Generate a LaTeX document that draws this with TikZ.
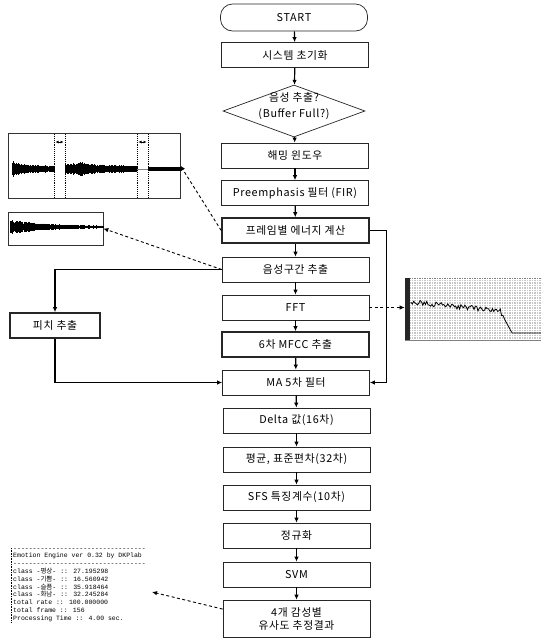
\documentclass[tikz,border=0pt]{standalone}
\usepackage{fontspec}
\usetikzlibrary{arrows.meta,shapes.geometric,calc}
\newfontfamily\kr[LetterSpace=6]{Noto Sans CJK KR}
\newfontfamily\krs{Noto Sans CJK KR}
\newfontfamily\cmono{Liberation Mono}
\begin{document}
\begin{tikzpicture}[x=1pt,y=-1pt,
  box/.style={draw=black!85, line width=0.7pt, minimum width=147pt, minimum height=25pt, inner sep=0pt, font=\kr\fontsize{10.8}{13}\selectfont, align=center},
  thickbox/.style={box, line width=1.6pt},
  arr/.style={line width=1.2pt, -{Latex[length=5pt,width=4.5pt]}},
  dasharr/.style={dash pattern=on 3pt off 2.5pt, line width=0.9pt, -{Latex[length=5pt,width=4.5pt]}},
  img/.style={draw=black!80, line width=0.7pt, inner sep=0pt},
  wv/.style={line width=0.6pt}
]
\useasboundingbox (0,0) rectangle (541,638);

% main column
\node[box, rounded corners=12pt, minimum height=27pt] (start) at (294,17.5) {START};
\node[box] (v1) at (295,55) {시스템 초기화};
\node[draw=black!85, line width=0.7pt, diamond, minimum width=142pt, minimum height=52pt, inner sep=0pt] (dec) at (294,111) {};
\node[font=\kr\fontsize{10.8}{16}\selectfont, align=center] (dect) at (294,106) {음성 추출?\\(Buffer Full?)};
\node[box] (v2) at (295,155.5) {해밍 윈도우};
\node[box] (v3) at (295,193) {Preemphasis 필터 (FIR)};
\node[thickbox] (v4) at (295.5,230.5) {프레임별 에너지 계산};
\node[box] (v5) at (295.5,269.5) {음성구간 추출};
\node[box] (v6) at (295.5,307.5) {FFT};
\node[thickbox] (v7) at (295.5,344.5) {6차 MFCC 추출};
\node[box] (v8) at (296,382.5) {MA 5차 필터};
\node[box] (v9) at (296.5,420.5) {Delta 값(16차)};
\node[box] (v10) at (296.5,459.5) {평균, 표준편차(32차)};
\node[box] (v11) at (296.5,497.5) {SFS 특징계수(10차)};
\node[box] (v12) at (296.5,535.5) {정규화};
\node[box] (v13) at (296.5,574.5) {SVM};
\node[box, minimum height=37pt] (v14) at (296.5,618.5) {4개 감성별\\유사도 추정결과};

\node[thickbox, minimum width=90pt] (pitch) at (55,325.5) {피치 추출};

\draw[arr] (start) -- (v1);
\draw[arr] (v1) -- (dec);
\draw[arr] (dec) -- (v2);
\draw[arr] (v2) -- (v3);
\draw[arr] (v3) -- (v4);
\draw[arr] (v4) -- (v5);
\draw[arr] (v5) -- (v6);
\draw[arr] (v6) -- (v7);
\draw[arr] (v7) -- (v8);
\draw[arr] (v8) -- (v9);
\draw[arr] (v9) -- (v10);
\draw[arr] (v10) -- (v11);
\draw[arr] (v11) -- (v12);
\draw[arr] (v12) -- (v13);
\draw[arr] (v13) -- (v14);

\draw[arr] (v4.east) -- ++(17,0) |- (v8.east);
\draw[arr] (v5.west) -| (pitch.north);
\draw[arr] (pitch.south) |- (v8.west);

% big waveform
\node[img, minimum width=172pt, minimum height=65pt] (bw) at (94,165.5) {};
\pgfmathsetseed{3}
\foreach \x in {12,12.5,...,54} {\pgfmathsetmacro\a{(3.5+5*exp(-(\x-12)/8))*(0.6+0.4*rnd)}\draw[wv] (\x,169-\a) -- (\x,169+\a);}
\foreach \x in {65,65.5,...,137} {\pgfmathsetmacro\a{(6-3*(\x-65)/72+2*exp(-((\x-82)/4)*((\x-82)/4)))*(0.6+0.4*rnd)}\draw[wv] (\x,169-\a) -- (\x,169+\a);}
\foreach \x in {148,148.5,...,180} {\pgfmathsetmacro\a{2.2*(0.7+0.3*rnd)}\draw[wv] (\x,169-\a) -- (\x,169+\a);}
\draw[gray, line width=0.8pt] (137,169) -- (148,169);
\foreach \x in {54,65,137,148} {\draw[densely dotted, line width=0.9pt] (\x,134) -- (\x,197);}
\draw[{Latex[length=3pt,width=3pt]}-{Latex[length=3pt,width=3pt]}, line width=0.6pt] (55.5,142) -- (63.5,142);
\draw[{Latex[length=3pt,width=3pt]}-{Latex[length=3pt,width=3pt]}, line width=0.6pt] (138.5,142) -- (146.5,142);

% small waveform
\node[img, minimum width=95pt, minimum height=33pt] (sw) at (55.5,228.5) {};
\foreach \x in {10,10.5,...,103} {\pgfmathsetmacro\a{(1+7*exp(-(\x-10)/35))*(0.55+0.45*rnd)}\draw[wv] (\x,227-\a) -- (\x,227+\a);}

% spectrum
\node[draw=black!50, line width=0.6pt, fill=gray!45, minimum width=136pt, minimum height=62pt, inner sep=0pt] (spec) at (473,309) {};
\begin{scope}
\clip (405,278) rectangle (541,340);
\foreach \gx in {406,408.5,...,541} {\draw[white, line width=0.5pt] (\gx,278) -- (\gx,340);}
\foreach \gy in {279,281.5,...,340} {\draw[white, line width=0.5pt] (405,\gy) -- (541,\gy);}
\fill[black!85] (405,278) rectangle (410,340);
\draw[line width=0.8pt] plot[domain=411:541, samples=100] (\x, {302+0.1*(min(\x,500)-411)+22*min(max(\x-500,0),12)/12+(rnd-0.5)*5*(\x<505)});
\end{scope}

\draw[dasharr] (v6.east) -- (v6.east -| spec.west);
\draw[dasharr] (v4.west) -- (bw.east);
\draw[dasharr] (v5.west) -- (sw.east);

% console
\node[anchor=north west, font=\cmono\fontsize{6.5}{7.8}\selectfont, align=left, inner sep=0pt] (con) at (13,548) {%
----------------------------------\\
 Emotion Engine ver 0.32 by DKPlab\\
----------------------------------\\
class -{\krs 평상}- :: 27.195298\\
class -{\krs 기쁨}- :: 16.560942\\
class -{\krs 슬픔}- :: 35.918464\\
class -{\krs 화남}- :: 32.245284\\
total rate :: 100.000000\\
total frame :: 156\\
Processing Time :: 4.00 sec.};
\draw[densely dotted, line width=0.6pt] ([xshift=-2pt]con.north west) -- ([xshift=-2pt]con.south west);
\coordinate (conend) at (152,592);
\draw[dasharr] ($(v14.north west)!0.25!(v14.south west)$) -- (conend);
\end{tikzpicture}
\end{document}
